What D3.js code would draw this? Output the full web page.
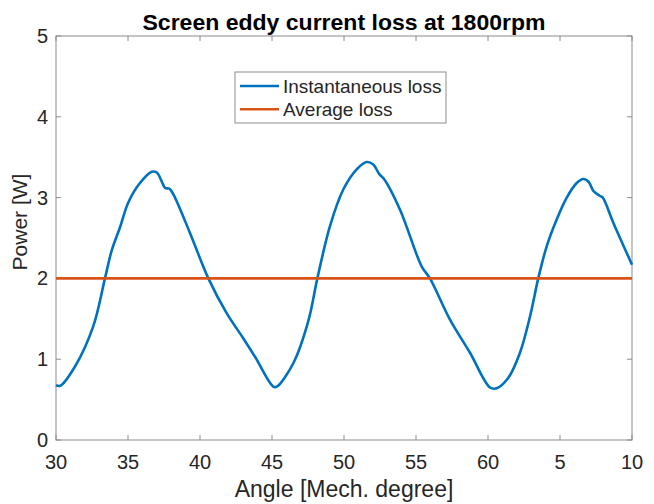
<!DOCTYPE html>
<html><head><meta charset="utf-8">
<script src="https://cdn.jsdelivr.net/npm/d3@7"></script>
<style>body{margin:0;background:#fff}svg{display:block}text{font-family:"Liberation Sans",Arial,Helvetica,sans-serif}</style>
</head><body>
<script>
const angle = [30,30.28,31.32,32.59,33.4,33.86,34.44,35.02,35.83,36.65,37.0,37.34,37.57,37.87,38.15,39.31,40.58,41.85,43.0,43.82,45.09,45.33,46.48,47.52,48.15,49.03,49.95,50.88,51.58,52.03,52.45,52.78,53.89,55.39,55.97,57.36,58.75,60.14,60.6,61.41,62.22,62.92,63.49,64.08,64.77,65.47,66.16,66.62,66.97,67.33,67.78,67.97,68.7,70];
const instLoss = [0.68,0.67,0.91,1.41,2.0,2.34,2.63,2.94,3.18,3.32,3.31,3.2,3.12,3.11,3.04,2.56,2.0,1.57,1.26,1.03,0.66,0.66,0.95,1.47,2.0,2.65,3.1,3.35,3.44,3.41,3.29,3.23,2.85,2.15,2.0,1.49,1.08,0.65,0.64,0.77,1.08,1.53,2.0,2.4,2.73,3.0,3.18,3.23,3.2,3.08,3.02,3.0,2.69,2.17];
const avgLoss = [2.0,2.0];
const avgAngle = [30,70];
const xTicks = [30,35,40,45,50,55,60,65,70];
const xTickLabels = ["30","35","40","45","50","55","60","5","10"];
const yTicks = [0,1,2,3,4,5];
const seriesNames = ["Instantaneous loss","Average loss"];
const colors = ["#0072BD","#D95319"];

const W=654,H=504, L=56,R=632,T=36,B=440;
const svg=d3.select("body").append("svg").attr("width",W).attr("height",H);
const x=d3.scaleLinear().domain([30,70]).range([L,R]);
const y=d3.scaleLinear().domain([0,5]).range([B,T]);
const axCol="#8c8c8c", txtCol="#262626";

// box
svg.append("rect").attr("x",L).attr("y",T).attr("width",R-L).attr("height",B-T).attr("fill","#fff").attr("stroke",axCol).attr("stroke-width",1);

// ticks
const tl=5;
const gx=svg.append("g");
xTicks.forEach((v,i)=>{
  gx.append("line").attr("x1",x(v)).attr("x2",x(v)).attr("y1",B).attr("y2",B-tl).attr("stroke",axCol);
  gx.append("line").attr("x1",x(v)).attr("x2",x(v)).attr("y1",T).attr("y2",T+tl).attr("stroke",axCol);
  gx.append("text").attr("x",x(v)).attr("y",B+29).attr("text-anchor","middle").attr("font-size",20).attr("fill",txtCol).text(xTickLabels[i]);
});
yTicks.forEach(v=>{
  gx.append("line").attr("x1",L).attr("x2",L+tl).attr("y1",y(v)).attr("y2",y(v)).attr("stroke",axCol);
  gx.append("line").attr("x1",R).attr("x2",R-tl).attr("y1",y(v)).attr("y2",y(v)).attr("stroke",axCol);
  gx.append("text").attr("x",L-8).attr("y",y(v)+7).attr("text-anchor","end").attr("font-size",20).attr("fill",txtCol).text(v);
});

// lines
const line=d3.line().x(d=>x(d[0])).y(d=>y(d[1])).curve(d3.curveCatmullRom.alpha(0.5));
svg.append("path").datum(angle.map((a,i)=>[a,instLoss[i]])).attr("d",line).attr("fill","none").attr("stroke",colors[0]).attr("stroke-width",2.6);
svg.append("path").datum(avgAngle.map((a,i)=>[a,avgLoss[i]])).attr("d",d3.line().x(d=>x(d[0])).y(d=>y(d[1]))).attr("fill","none").attr("stroke",colors[1]).attr("stroke-width",2.6);

// legend
const lg=svg.append("g");
lg.append("rect").attr("x",235).attr("y",72).attr("width",211).attr("height",51).attr("fill","#fff").attr("stroke",axCol);
seriesNames.forEach((n,i)=>{
  const yy=86+i*23.3;
  lg.append("line").attr("x1",240).attr("x2",279).attr("y1",yy).attr("y2",yy).attr("stroke",colors[i]).attr("stroke-width",2.6);
  lg.append("text").attr("x",283).attr("y",yy+6.5).attr("font-size",19).attr("fill",txtCol).text(n);
});

// title & labels
svg.append("text").attr("x",(L+R)/2).attr("y",29.5).attr("text-anchor","middle").attr("font-size",22).attr("font-weight","bold").attr("fill","#000")
  .attr("textLength",403).attr("lengthAdjust","spacingAndGlyphs").text("Screen eddy current loss at 1800rpm");
svg.append("text").attr("x",(L+R)/2).attr("y",497).attr("text-anchor","middle").attr("font-size",23).attr("fill",txtCol).text("Angle [Mech. degree]");
svg.append("text").attr("transform","translate(27,222) rotate(-90)").attr("text-anchor","middle").attr("font-size",21).attr("fill",txtCol).text("Power [W]");
</script>
</body></html>
